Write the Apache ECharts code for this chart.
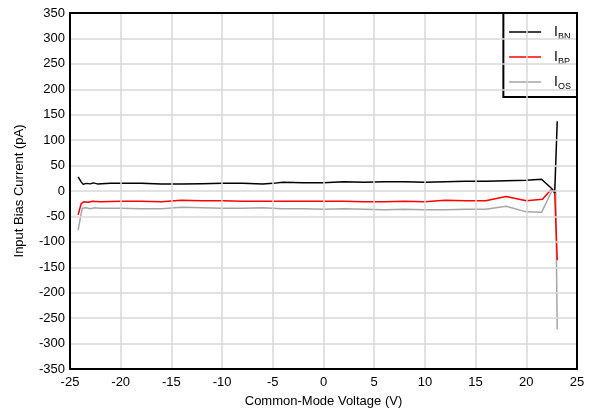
<!DOCTYPE html>
<html><head><meta charset="utf-8">
<script src="https://cdn.jsdelivr.net/npm/echarts@6/dist/echarts.min.js"></script>
<style>html,body{margin:0;padding:0;background:#fff}#c{width:590px;height:409px}</style>
</head><body><div id="c"></div>
<script>
const ibnX = [-24.2,-23.9,-23.7,-23.4,-23.0,-22.7,-22.3,-21,-20,-18,-16,-14,-12,-10,-8,-6,-5,-4,-2,0,2,4,6,8,10,12,14,16,18,20,21.5,22.5,22.8,23.05];
const ibnY = [28,18,13,15,14,16,14,15,15,15,14,14,14.5,15,15,14,15,17,16,16,18,17,18,18,17,18,19,19,20,21,23,5,-4,137];
const ibpX = [-24.2,-23.9,-23.6,-23.2,-22.8,-22,-20,-18,-16,-14,-12,-10,-8,-6,-4,-2,0,2,4,6,8,10,12,14,16,18,20,21.6,22.4,22.8,23.05];
const ibpY = [-47,-25,-21,-22,-20,-21,-20,-20,-21,-18,-19,-19,-20,-20,-20,-20,-20,-20,-21,-21,-20,-21,-18,-19,-19,-11,-19,-16,2,-1,-136];
const iosX = [-24.2,-23.8,-23.4,-23,-22.6,-22,-20,-18,-16,-14,-12,-10,-8,-6,-4,-2,0,2,4,6,8,10,12,14,16,18,20,21.5,22.6,22.9,23.05];
const iosY = [-77,-34,-33,-35,-33,-34,-34,-35,-35,-32,-33,-34,-34,-33,-35,-35,-36,-35,-36,-37,-36,-37,-37,-36,-36,-30,-41,-42,3,-2,-272];
const seriesNames = ['IBN','IBP','IOS'];
const seriesColors = ['#000000','#ff0000','#a6a6a6'];
const xName = 'Common-Mode Voltage (V)';
const yName = 'Input Bias Current (pA)';

const zip = (xs, ys) => xs.map((x, i) => [x, ys[i]]);
const sData = [zip(ibnX, ibnY), zip(ibpX, ibpY), zip(iosX, iosY)];
const font = 'Liberation Sans, Arial, sans-serif';
const frameAxis = {
  axisLine: {show: true, onZero: false, lineStyle: {color: '#000', width: 2}},
  axisTick: {show: false}, axisLabel: {show: false}, splitLine: {show: false}, z: 10
};
const chart = echarts.init(document.getElementById('c'), null, {renderer: 'canvas'});
chart.setOption({
  animation: false,
  backgroundColor: '#fff',
  grid: {left: 70, right: 13, top: 13, bottom: 40, show: false, containLabel: false, outerBoundsMode: 'none'},
  xAxis: [{
    type: 'value', min: -25, max: 25, interval: 5,
    name: xName, nameLocation: 'middle', nameGap: 26,
    nameTextStyle: {fontFamily: font, fontSize: 13, color: '#000'},
    axisLine: {show: true, onZero: false, lineStyle: {color: '#000', width: 2}},
    axisTick: {show: false},
    axisLabel: {fontFamily: font, fontSize: 13, color: '#000', margin: 7},
    splitLine: {show: true, lineStyle: {color: '#d9d9d9', width: 1.5}}, z: 10
  }, Object.assign({type: 'value', min: -25, max: 25, interval: 5, position: 'top'}, frameAxis)],
  yAxis: [{
    type: 'value', min: -350, max: 350, interval: 50,
    name: yName, nameLocation: 'middle', nameGap: 44,
    nameTextStyle: {fontFamily: font, fontSize: 13, color: '#000'},
    axisLine: {show: true, onZero: false, lineStyle: {color: '#000', width: 2}},
    axisTick: {show: false},
    axisLabel: {fontFamily: font, fontSize: 13, color: '#000', margin: 5},
    splitLine: {show: true, lineStyle: {color: '#d9d9d9', width: 1.5}}, z: 10
  }, Object.assign({type: 'value', min: -350, max: 350, interval: 50, position: 'right'}, frameAxis)],
  legend: {
    orient: 'vertical', right: 13, top: 13,
    borderColor: '#000', borderWidth: 2, backgroundColor: '#fff',
    padding: [12, 6, 6, 5], itemGap: 9, itemWidth: 32, itemHeight: 16,
    data: seriesNames,
    itemStyle: {opacity: 0},
    lineStyle: {width: 1.5},
    formatter: n => 'I{s|' + n.slice(1) + '}',
    textStyle: {fontFamily: font, fontSize: 14, color: '#000', padding: [0,0,0,8],
      rich: {s: {fontFamily: font, fontSize: 9, color: '#000', verticalAlign: 'bottom', padding: [9,0,0,0]}}}
  },
  series: seriesNames.map((n, i) => ({
    name: n, type: 'line', data: sData[i], symbol: 'none', smooth: false,
    lineStyle: {color: seriesColors[i], width: 1.5}, itemStyle: {color: seriesColors[i]}, z: 3 - i
  }))
});
</script></body></html>
